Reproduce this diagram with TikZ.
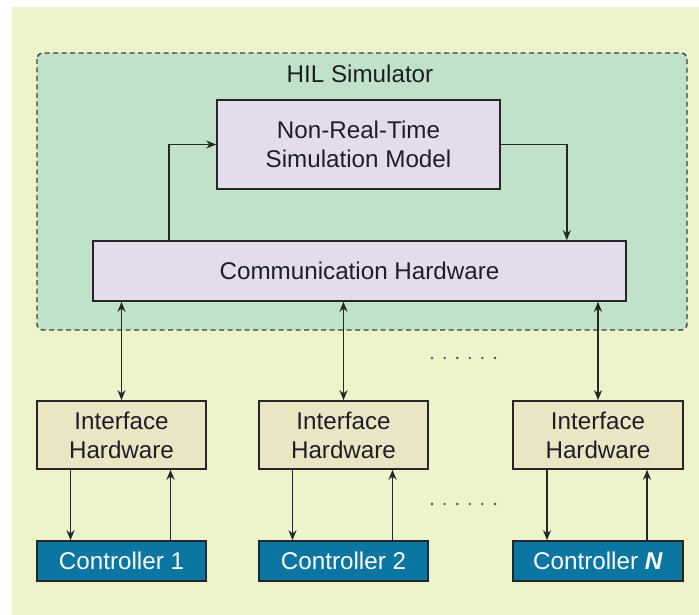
\documentclass[tikz,border=0pt]{standalone}
\usepackage{fontspec}
\setmainfont{Liberation Sans}
\usetikzlibrary{arrows.meta, positioning}

\definecolor{pagebg}{RGB}{237,244,204}
\definecolor{hilbg}{RGB}{192,226,200}
\definecolor{modelbg}{RGB}{227,220,237}
\definecolor{ifacebg}{RGB}{234,229,195}
\definecolor{ctrlbg}{RGB}{11,118,161}
\definecolor{txt}{RGB}{30,30,40}

\begin{document}
\begin{tikzpicture}[x=1pt, y=-1pt,
    every node/.style={font=\fontsize{24.2}{29}\selectfont, text=txt, align=center, inner sep=0pt},
    block/.style={draw=black!85, line width=1.6pt, minimum width=169pt},
    ifacebox/.style={block, fill=ifacebg, minimum height=68pt},
    ctrlbox/.style={block, fill=ctrlbg, minimum height=40pt, text=white},
    arr/.style={draw=black!85, line width=1.6pt, -{Stealth[length=10pt, width=8pt]}},
    biarr/.style={arr, {Stealth[length=10pt, width=8pt]}-{Stealth[length=10pt, width=8pt]}}]

    \useasboundingbox (0,0) rectangle (699,615);
    \fill[pagebg] (12,7) rectangle (699,615);

    % HIL simulator frame
    \draw[fill=hilbg, draw=black!75, line width=1.4pt, dash pattern=on 5pt off 3.5pt, rounded corners=6pt]
        (37,53) rectangle (687,330);
    \node (hil) at (360,74) {HIL Simulator};

    % simulator blocks
    \node[block, fill=modelbg, minimum width=283pt, minimum height=89pt] (nrt) at (358.5,144.5)
        {Non-Real-Time\\Simulation Model};
    \node[block, fill=modelbg, minimum width=533pt, minimum height=60pt] (comm) at (359.5,271)
        {Communication Hardware};

    \draw[arr] ([xshift=77pt]comm.north west) |- (nrt.west);
    \draw[arr] (nrt.east) -| ([xshift=-60pt]comm.north east);

    % interface hardware and controllers
    \node[ifacebox] (ih1) at (121.5,435) {Interface\\Hardware};
    \node[ifacebox] (ih2) at (343.5,435) {Interface\\Hardware};
    \node[ifacebox, minimum width=170pt] (ih3) at (598,435) {Interface\\Hardware};

    \node[ctrlbox] (c1) at (121.5,561) {Controller 1};
    \node[ctrlbox] (c2) at (343.5,561) {Controller 2};
    \node[ctrlbox, minimum width=170pt] (c3) at (598,561) {Controller \textit{\textbf{N}}};

    \foreach \i in {1,2,3} {
        \draw[biarr] (comm.south -| ih\i.north) -- (ih\i.north);
        \draw[arr] ([xshift=-51pt]ih\i.south) -- ([xshift=-51pt]c\i.north);
        \draw[arr] ([xshift=49pt]c\i.north) -- ([xshift=49pt]ih\i.south);
    }

    % dots
    \foreach \i in {0,...,5} {
        \fill[txt!80] (432+12.6*\i,358) circle (1.3pt);
        \fill[txt!80] (432+12.6*\i,504) circle (1.3pt);
    }

\end{tikzpicture}
\end{document}
